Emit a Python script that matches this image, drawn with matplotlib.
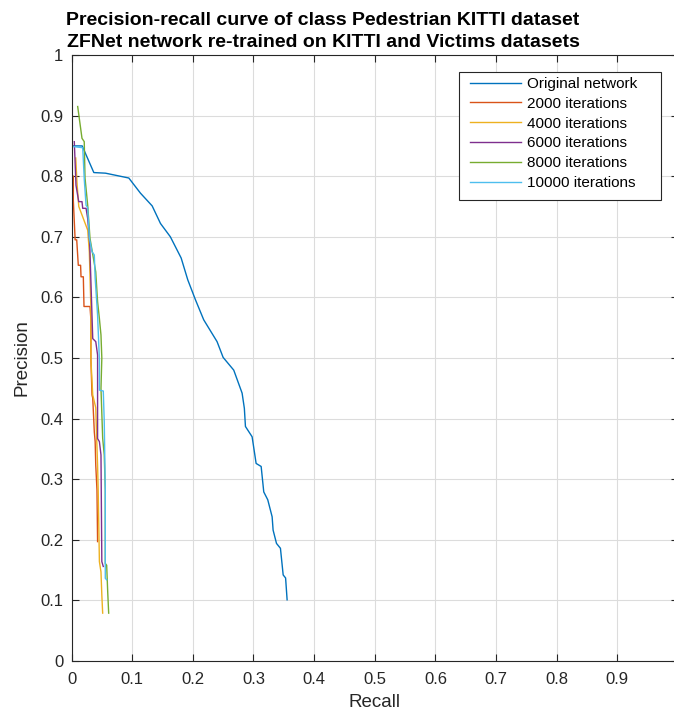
import matplotlib
matplotlib.use("Agg")
import matplotlib.pyplot as plt
from matplotlib.patches import Rectangle

# ---- data ----
orig_r = [0.002, 0.0176, 0.0368, 0.056, 0.0945, 0.1137, 0.133, 0.1467, 0.163, 0.1808, 0.1917,
          0.2044, 0.218, 0.240, 0.250, 0.2675, 0.2813, 0.285, 0.2868, 0.2978, 0.3044, 0.3127,
          0.317, 0.3236, 0.3308, 0.3324, 0.338, 0.3445, 0.349, 0.353, 0.3555]
orig_p = [0.850, 0.850, 0.806, 0.805, 0.797, 0.772, 0.751, 0.722, 0.700, 0.665, 0.629,
          0.596, 0.563, 0.527, 0.501, 0.480, 0.442, 0.417, 0.387, 0.370, 0.326, 0.321,
          0.279, 0.266, 0.238, 0.216, 0.194, 0.186, 0.142, 0.137, 0.101]

it2000_r = [0.003, 0.003, 0.006, 0.0086, 0.0112, 0.015, 0.0157, 0.0195, 0.0206, 0.0305, 0.032,
            0.032, 0.0338, 0.035, 0.0376, 0.039, 0.040, 0.042, 0.043]
it2000_p = [0.800, 0.760, 0.695, 0.695, 0.653, 0.653, 0.634, 0.634, 0.585, 0.585, 0.563,
            0.497, 0.439, 0.434, 0.378, 0.362, 0.323, 0.282, 0.197]

it4000_r = [0.007, 0.009, 0.012, 0.0173, 0.0267, 0.0294, 0.032, 0.032, 0.035, 0.040, 0.0415,
            0.043, 0.044, 0.046, 0.0486, 0.050, 0.0514]
it4000_p = [0.830, 0.790, 0.750, 0.736, 0.711, 0.675, 0.582, 0.497, 0.439, 0.418, 0.368,
            0.323, 0.282, 0.164, 0.147, 0.109, 0.079]

it6000_r = [0.0046, 0.0074, 0.0119, 0.0173, 0.0185, 0.024, 0.0267, 0.030, 0.035, 0.040, 0.043,
            0.043, 0.046, 0.0486, 0.050, 0.0524]
it6000_p = [0.857, 0.785, 0.758, 0.758, 0.747, 0.747, 0.730, 0.690, 0.532, 0.527, 0.505,
            0.367, 0.362, 0.340, 0.164, 0.156]

it8000_r = [0.0102, 0.0173, 0.021, 0.0223, 0.0267, 0.0305, 0.040, 0.043, 0.046, 0.0486, 0.050,
            0.0486, 0.0514, 0.054, 0.0557, 0.0557, 0.058, 0.0597, 0.0613]
it8000_p = [0.915, 0.8625, 0.857, 0.797, 0.752, 0.6975, 0.642, 0.593, 0.565, 0.538, 0.500,
            0.450, 0.3675, 0.340, 0.282, 0.161, 0.158, 0.114, 0.079]

it10000_r = [0.002, 0.0185, 0.0211, 0.024, 0.0267, 0.0294, 0.0338, 0.0376, 0.039, 0.043, 0.046,
             0.046, 0.0524, 0.054, 0.0557, 0.0557, 0.058]
it10000_p = [0.849, 0.847, 0.794, 0.752, 0.748, 0.698, 0.6755, 0.670, 0.632, 0.571, 0.497,
             0.447, 0.4455, 0.395, 0.282, 0.1365, 0.134]

labels = ["Original network", "2000 iterations", "4000 iterations",
          "6000 iterations", "8000 iterations", "10000 iterations"]
colors = ["#0072BD", "#D95319", "#EDB120", "#7E2F8E", "#77AC30", "#4DBEEE"]
xticks = [0, 0.1, 0.2, 0.3, 0.4, 0.5, 0.6, 0.7, 0.8, 0.9, 1]
yticks = [0, 0.1, 0.2, 0.3, 0.4, 0.5, 0.6, 0.7, 0.8, 0.9, 1]
title1 = "Precision-recall curve of class Pedestrian KITTI dataset"
title2 = "ZFNet network re-trained on KITTI and Victims datasets"

plt.rcParams['font.family'] = ['Liberation Sans', 'DejaVu Sans']

W, H = 674, 716
fig = plt.figure(figsize=(W / 100, H / 100), dpi=100)
ax = fig.add_axes([71.5 / W, 55 / H, 606.5 / W, 606 / H])

series = [(orig_r, orig_p), (it2000_r, it2000_p), (it4000_r, it4000_p),
          (it6000_r, it6000_p), (it8000_r, it8000_p), (it10000_r, it10000_p)]
for (r, p), c, lab in zip(series, colors, labels):
    ax.plot(r, p, color=c, lw=1.0, label=lab)

ax.set_xlim(0, 1)
ax.set_ylim(0, 1)
ax.set_xticks(xticks)
ax.set_yticks(yticks)
ax.set_xticklabels([("%g" % v) for v in xticks])
ax.set_yticklabels([("%g" % v) for v in yticks])
ax.grid(True, color='#dcdcdc', lw=0.8)
ax.set_axisbelow(True)
ax.tick_params(direction='in', length=5, width=0.8, colors='#262626', labelsize=12,
               top=True, right=True)
ax.tick_params(axis='x', pad=8)
ax.tick_params(axis='y', pad=6)
for s in ax.spines.values():
    s.set_color('#262626')
    s.set_linewidth(0.8)
ax.set_xlabel("Recall", fontsize=13.5, color='#262626', labelpad=5)
ax.set_ylabel("Precision", fontsize=13.5, color='#262626', labelpad=7)

fig.text(323 / W, 1 - 25 / H, title1, ha='center', va='baseline', fontsize=14,
         fontweight='bold')
fig.text(323 / W, 1 - 47 / H, title2, ha='center', va='baseline', fontsize=14,
         fontweight='bold')

# legend: entries without frame, frame drawn as box at reference location
leg = ax.legend(loc='upper left', bbox_to_anchor=(470 / W, 1 - 77 / H),
                bbox_transform=fig.transFigure,
                fontsize=11, frameon=False, borderpad=0, borderaxespad=0,
                handlelength=3.34, labelspacing=0.38, handletextpad=0.4)
box = Rectangle((459 / W, 1 - 200 / H), (661 - 459) / W, (200 - 72) / H,
                transform=fig.transFigure, facecolor='white', edgecolor='#262626',
                lw=0.8, zorder=4)
ax.add_artist(box)
box.set_clip_on(False)
leg.set_zorder(5)

fig.savefig("out.png", dpi=100)
